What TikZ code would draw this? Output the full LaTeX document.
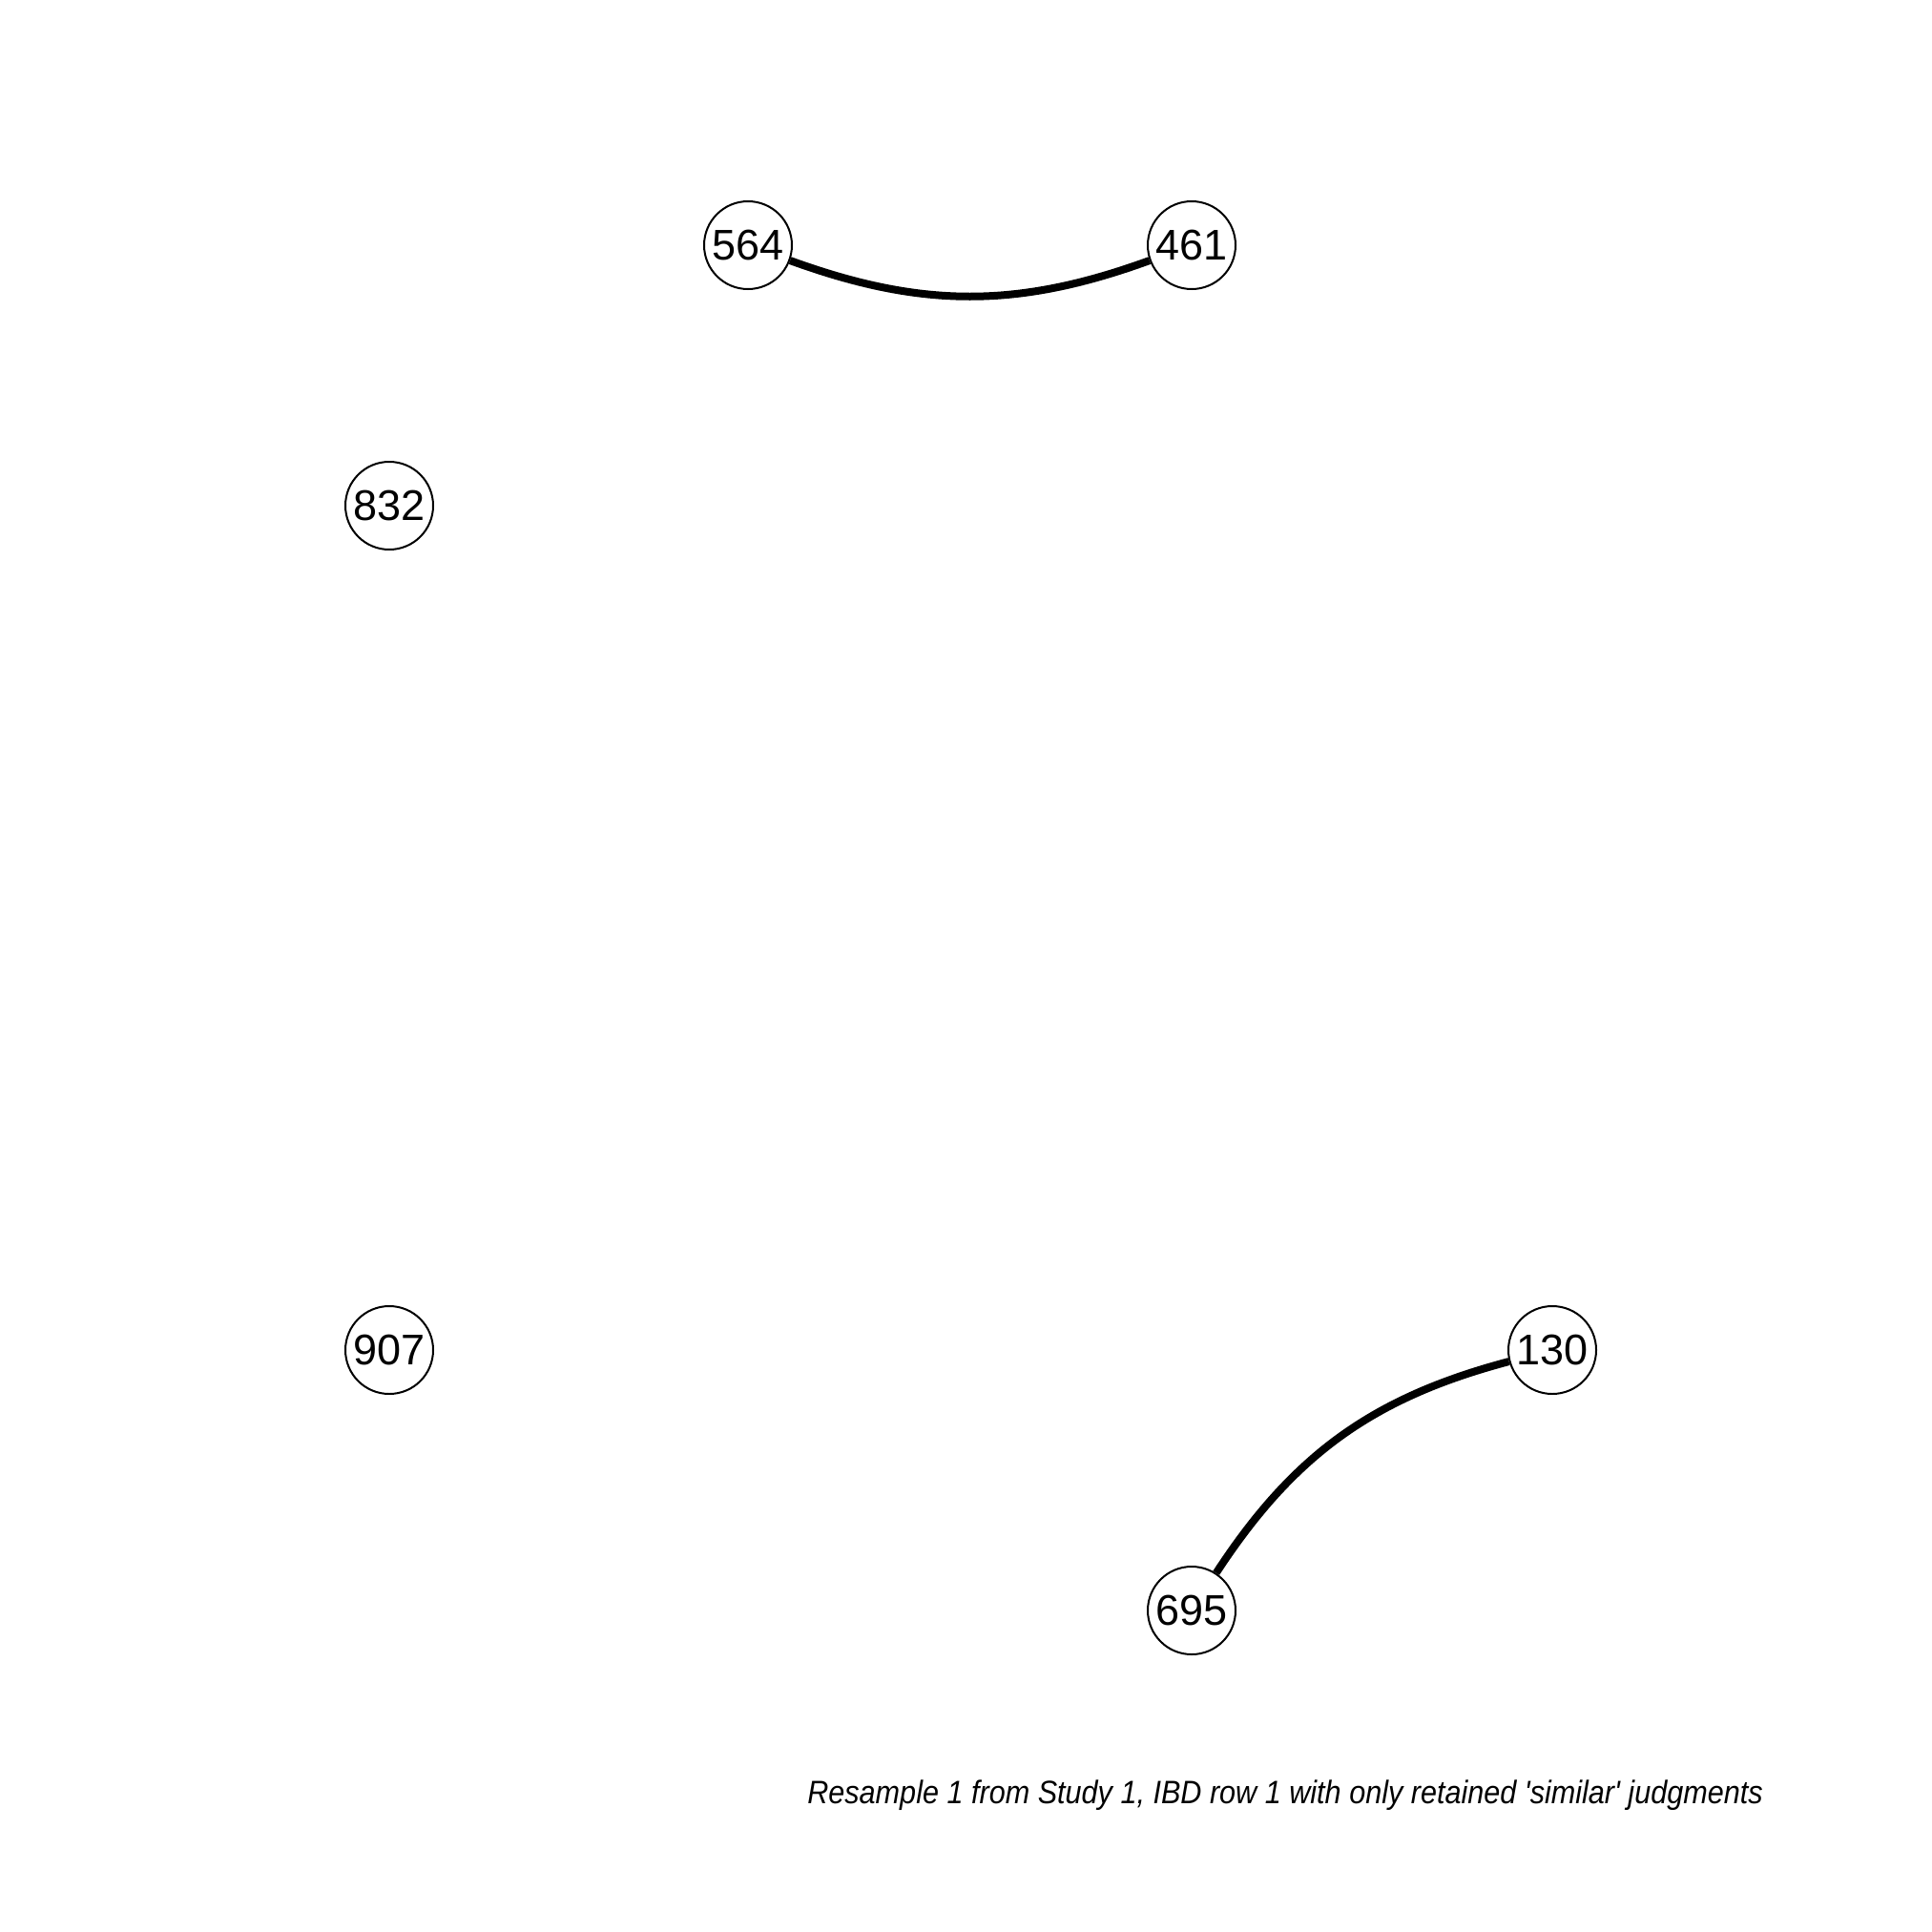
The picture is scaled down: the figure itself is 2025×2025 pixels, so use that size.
\documentclass[tikz,border=0pt]{standalone}
\usepackage{fontspec}
\setmainfont{Liberation Sans}
\begin{document}
\begin{tikzpicture}[x=1pt,y=-1pt,
  vtx/.style={circle,draw,line width=2pt,fill=white,minimum size=92pt,inner sep=0pt,font=\fontsize{45}{45}\selectfont},
  edg/.style={line width=8pt}]
\useasboundingbox (0,0) rectangle (2025,2025);
\node[vtx] (n564) at (784,257) {564};
\node[vtx] (n461) at (1249,257) {461};
\node[vtx] (n832) at (408,530) {832};
\node[vtx] (n907) at (408,1415) {907};
\node[vtx] (n130) at (1627,1415) {130};
\node[vtx] (n695) at (1249,1688) {695};
\draw[edg] (n564) to[bend right=20] (n461);
\draw[edg] (n695) to[bend left=21] (n130);
\node[anchor=east,inner sep=0pt,font=\fontsize{34}{34}\selectfont\itshape] (cap) at (1848,1882) {\scalebox{0.9}[1]{Resample 1 from Study 1, IBD row 1 with only retained \textquotesingle similar\textquotesingle\ judgments}};
\end{tikzpicture}
\end{document}
